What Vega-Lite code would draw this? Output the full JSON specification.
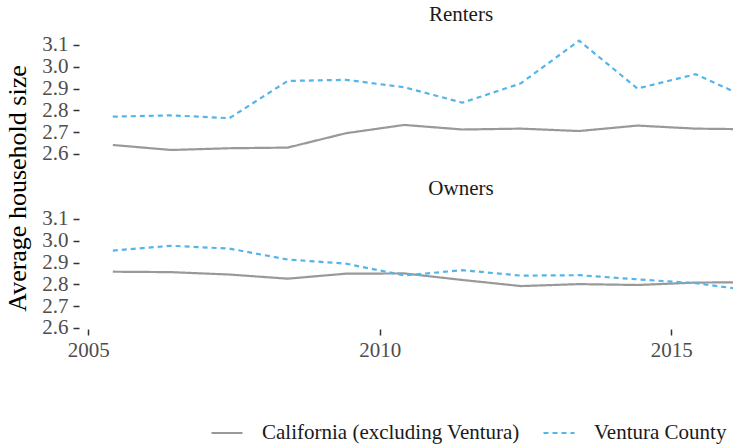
{
  "$schema": "https://vega.github.io/schema/vega-lite/v6.json",
  "background": "white",
  "padding": {"left": 4, "top": 4, "right": 0, "bottom": 3},
  "autosize": {"type": "pad"},
  "bounds": "flush",
  "spacing": 52,
  "config": {
    "font": "Liberation Serif",
    "view": {"stroke": null},
    "axis": {
      "grid": false, "domain": false,
      "tickColor": "#333333", "tickWidth": 1.5, "tickSize": 6,
      "labelColor": "#4d4d4d", "labelFont": "Liberation Serif", "labelFontSize": 21, "labelPadding": 5,
      "titleFont": "Liberation Serif", "titleFontSize": 26, "titleFontWeight": "normal", "titleColor": "#000000"
    },
    "title": {"font": "Liberation Serif", "fontSize": 21, "fontWeight": "normal", "color": "#1a1a1a", "anchor": "middle"},
    "legend": {
      "orient": "none", "legendX": 131, "legendY": 383, "direction": "horizontal",
      "symbolType": "stroke", "symbolSize": 961, "symbolStrokeWidth": 2.2,
      "labelFont": "Liberation Serif", "labelFontSize": 21, "labelColor": "#1a1a1a",
      "labelOffset": 18, "columnPadding": 19, "title": null, "labelLimit": 400
    }
  },
  "datasets": {
    "d": [
      {"tenure": "Renters", "group": "California (excluding Ventura)", "year": 2005.42, "size": 2.641},
      {"tenure": "Renters", "group": "California (excluding Ventura)", "year": 2006.42, "size": 2.618},
      {"tenure": "Renters", "group": "California (excluding Ventura)", "year": 2007.42, "size": 2.626},
      {"tenure": "Renters", "group": "California (excluding Ventura)", "year": 2008.42, "size": 2.629},
      {"tenure": "Renters", "group": "California (excluding Ventura)", "year": 2009.42, "size": 2.695},
      {"tenure": "Renters", "group": "California (excluding Ventura)", "year": 2010.42, "size": 2.733},
      {"tenure": "Renters", "group": "California (excluding Ventura)", "year": 2011.42, "size": 2.712},
      {"tenure": "Renters", "group": "California (excluding Ventura)", "year": 2012.42, "size": 2.716},
      {"tenure": "Renters", "group": "California (excluding Ventura)", "year": 2013.42, "size": 2.705},
      {"tenure": "Renters", "group": "California (excluding Ventura)", "year": 2014.42, "size": 2.730},
      {"tenure": "Renters", "group": "California (excluding Ventura)", "year": 2015.42, "size": 2.716},
      {"tenure": "Renters", "group": "California (excluding Ventura)", "year": 2016.42, "size": 2.713},
      {"tenure": "Renters", "group": "Ventura County", "year": 2005.42, "size": 2.771},
      {"tenure": "Renters", "group": "Ventura County", "year": 2006.42, "size": 2.777},
      {"tenure": "Renters", "group": "Ventura County", "year": 2007.42, "size": 2.764},
      {"tenure": "Renters", "group": "Ventura County", "year": 2008.42, "size": 2.935},
      {"tenure": "Renters", "group": "Ventura County", "year": 2009.42, "size": 2.940},
      {"tenure": "Renters", "group": "Ventura County", "year": 2010.42, "size": 2.906},
      {"tenure": "Renters", "group": "Ventura County", "year": 2011.42, "size": 2.835},
      {"tenure": "Renters", "group": "Ventura County", "year": 2012.42, "size": 2.924},
      {"tenure": "Renters", "group": "Ventura County", "year": 2013.42, "size": 3.120},
      {"tenure": "Renters", "group": "Ventura County", "year": 2014.42, "size": 2.900},
      {"tenure": "Renters", "group": "Ventura County", "year": 2015.42, "size": 2.966},
      {"tenure": "Renters", "group": "Ventura County", "year": 2016.42, "size": 2.844},
      {"tenure": "Owners", "group": "California (excluding Ventura)", "year": 2005.42, "size": 2.858},
      {"tenure": "Owners", "group": "California (excluding Ventura)", "year": 2006.42, "size": 2.856},
      {"tenure": "Owners", "group": "California (excluding Ventura)", "year": 2007.42, "size": 2.845},
      {"tenure": "Owners", "group": "California (excluding Ventura)", "year": 2008.42, "size": 2.826},
      {"tenure": "Owners", "group": "California (excluding Ventura)", "year": 2009.42, "size": 2.849},
      {"tenure": "Owners", "group": "California (excluding Ventura)", "year": 2010.42, "size": 2.850},
      {"tenure": "Owners", "group": "California (excluding Ventura)", "year": 2011.42, "size": 2.820},
      {"tenure": "Owners", "group": "California (excluding Ventura)", "year": 2012.42, "size": 2.792},
      {"tenure": "Owners", "group": "California (excluding Ventura)", "year": 2013.42, "size": 2.801},
      {"tenure": "Owners", "group": "California (excluding Ventura)", "year": 2014.42, "size": 2.797},
      {"tenure": "Owners", "group": "California (excluding Ventura)", "year": 2015.42, "size": 2.808},
      {"tenure": "Owners", "group": "California (excluding Ventura)", "year": 2016.42, "size": 2.810},
      {"tenure": "Owners", "group": "Ventura County", "year": 2005.42, "size": 2.955},
      {"tenure": "Owners", "group": "Ventura County", "year": 2006.42, "size": 2.977},
      {"tenure": "Owners", "group": "Ventura County", "year": 2007.42, "size": 2.964},
      {"tenure": "Owners", "group": "Ventura County", "year": 2008.42, "size": 2.914},
      {"tenure": "Owners", "group": "Ventura County", "year": 2009.42, "size": 2.895},
      {"tenure": "Owners", "group": "Ventura County", "year": 2010.42, "size": 2.841},
      {"tenure": "Owners", "group": "Ventura County", "year": 2011.42, "size": 2.865},
      {"tenure": "Owners", "group": "Ventura County", "year": 2012.42, "size": 2.840},
      {"tenure": "Owners", "group": "Ventura County", "year": 2013.42, "size": 2.842},
      {"tenure": "Owners", "group": "Ventura County", "year": 2014.42, "size": 2.823},
      {"tenure": "Owners", "group": "Ventura County", "year": 2015.42, "size": 2.805},
      {"tenure": "Owners", "group": "Ventura County", "year": 2016.42, "size": 2.770}
    ]
  },
  "vconcat": [
    {
      "width": 654, "height": 122,
      "title": {"text": "Renters", "dx": 55, "offset": 8},
      "data": {"name": "d"},
      "transform": [{"filter": "datum.tenure === 'Renters'"}],
      "mark": {"type": "line", "strokeWidth": 2.2, "clip": true},
      "encoding": {
        "x": {"field": "year", "type": "quantitative", "scale": {"domain": [2004.84, 2016.06], "nice": false, "zero": false}, "axis": null},
        "y": {"field": "size", "type": "quantitative", "scale": {"domain": [2.595, 3.155], "nice": false, "zero": false},
              "axis": {"values": [2.6, 2.7, 2.8, 2.9, 3.0, 3.1], "format": ".1f", "title": "Average household size", "titleY": 155, "titleX": -54, "titleBaseline": "alphabetic"}},
        "color": {"field": "group", "type": "nominal", "scale": {"domain": ["California (excluding Ventura)", "Ventura County"], "range": ["#999999", "#56B4E9"]}},
        "strokeDash": {"field": "group", "type": "nominal", "scale": {"domain": ["California (excluding Ventura)", "Ventura County"], "range": [[1, 0], [5, 4]]}}
      }
    },
    {
      "width": 654, "height": 122,
      "title": {"text": "Owners", "dx": 55, "offset": 8},
      "data": {"name": "d"},
      "transform": [{"filter": "datum.tenure === 'Owners'"}],
      "mark": {"type": "line", "strokeWidth": 2.2, "clip": true},
      "encoding": {
        "x": {"field": "year", "type": "quantitative", "scale": {"domain": [2004.84, 2016.06], "nice": false, "zero": false},
              "axis": {"values": [2005, 2010, 2015], "format": "d", "title": null, "labelPadding": 4}},
        "y": {"field": "size", "type": "quantitative", "scale": {"domain": [2.595, 3.155], "nice": false, "zero": false},
              "axis": {"values": [2.6, 2.7, 2.8, 2.9, 3.0, 3.1], "format": ".1f", "title": null}},
        "color": {"field": "group", "type": "nominal", "scale": {"domain": ["California (excluding Ventura)", "Ventura County"], "range": ["#999999", "#56B4E9"]}},
        "strokeDash": {"field": "group", "type": "nominal", "scale": {"domain": ["California (excluding Ventura)", "Ventura County"], "range": [[1, 0], [5, 4]]}}
      }
    }
  ],
  "resolve": {"scale": {"x": "independent", "y": "independent"}}
}
